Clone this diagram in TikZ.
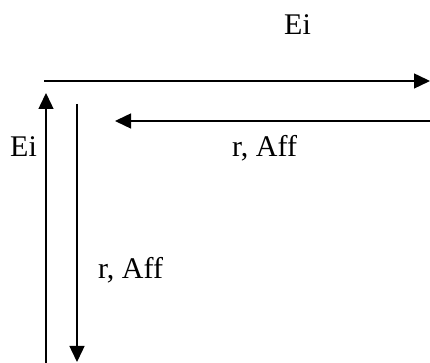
\documentclass[tikz,border=0pt]{standalone}
\usepackage{fontspec}
\setmainfont{Liberation Serif}
\usetikzlibrary{arrows.meta}
\begin{document}
\begin{tikzpicture}[x=1pt,y=1pt,
  lbl/.style={anchor=base west,inner sep=0pt,font=\fontsize{30}{34}\selectfont},
  arr/.style={line width=1.4pt,-{Triangle[length=16pt,width=15pt]}}]
\useasboundingbox (0,0) rectangle (430,363);
\coordinate (t1) at (44,282);
\coordinate (t2) at (430,282);
\coordinate (u1) at (46,0);
\coordinate (u2) at (46,270);
\coordinate (d1) at (77,259);
\coordinate (d2) at (77,1);
\coordinate (l1) at (430,242);
\coordinate (l2) at (115,242);
\draw[arr] (t1) -- (t2);
\draw[arr] (u1) -- (u2);
\draw[arr] (d1) -- (d2);
\draw[arr] (l1) -- (l2);
\node[lbl] (eitop) at (284,328) {Ei};
\node[lbl] (eileft) at (10,206) {Ei};
\node[lbl] (raffh) at (232,206) {r, Aff};
\node[lbl] (raffv) at (98,84) {r, Aff};
\end{tikzpicture}
\end{document}
